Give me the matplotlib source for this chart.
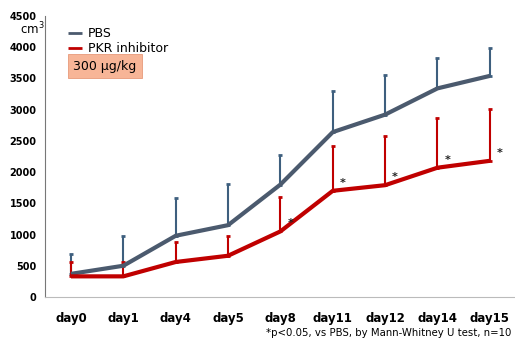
import matplotlib
import matplotlib.pyplot as plt
import numpy as np

matplotlib.rcParams['font.family'] = 'DejaVu Sans'

days = ['day0', 'day1', 'day4', 'day5', 'day8', 'day11', 'day12', 'day14', 'day15']
pbs = [370, 500, 980, 1150, 1800, 2640, 2920, 3340, 3540]
pbs_top = [690, 970, 1590, 1810, 2280, 3300, 3560, 3820, 3990]
pkr = [330, 330, 560, 660, 1050, 1700, 1790, 2070, 2180]
pkr_top = [560, 560, 880, 970, 1600, 2420, 2580, 2870, 3010]
signif = [False, False, False, False, True, True, True, True, True]
yticks = [0, 500, 1000, 1500, 2000, 2500, 3000, 3500, 4000, 4500]

c_pbs = '#4b5a6e'
c_pbs_err = '#3e5f7e'
c_pkr = '#c00000'

fig = plt.figure(figsize=(5.15, 3.39), dpi=100)
ax = fig.add_axes([0.087, 0.124, 0.915, 0.829])

x = np.arange(len(days))
pbs_err = np.array(pbs_top) - np.array(pbs)
pkr_err = np.array(pkr_top) - np.array(pkr)

ax.errorbar(x, pbs, yerr=[np.zeros(len(x)), pbs_err], fmt='none', ecolor=c_pbs_err,
            elinewidth=1.5, capsize=1.2, capthick=2, zorder=2)
ax.errorbar(x, pkr, yerr=[np.zeros(len(x)), pkr_err], fmt='none', ecolor=c_pkr,
            elinewidth=1.5, capsize=1.2, capthick=2, zorder=2)
ax.plot(x, pbs, color=c_pbs, lw=3, solid_capstyle='butt', zorder=3, label='PBS')
ax.plot(x, pkr, color=c_pkr, lw=3, solid_capstyle='butt', zorder=3, label='PKR inhibitor')

for i, s in enumerate(signif):
    if s:
        ax.text(x[i] + 0.13, pkr[i] + 50, '*', fontsize=8, fontweight='bold',
                color='#222222', ha='left', va='bottom')

ax.set_xlim(-0.5, 8.5)
ax.set_ylim(0, 4500)
ax.set_xticks(x)
ax.set_xticklabels(days, fontsize=8.5, fontweight='bold')
ax.set_yticks(yticks)
ax.set_yticklabels([str(v) for v in yticks], fontsize=7, fontweight='bold')
ax.tick_params(length=0, pad=6)
ax.tick_params(axis='x', pad=11)
for sp in ['top', 'right']:
    ax.spines[sp].set_visible(False)
ax.spines['left'].set_color('#777777')
ax.spines['bottom'].set_color('#bbbbbb')

leg = ax.legend(loc='upper left', bbox_to_anchor=(0.025, 1.0), frameon=False,
                fontsize=9, handlelength=1.1, handletextpad=0.5, labelspacing=0.15)
for line in leg.get_lines():
    line.set_linewidth(2)

fig.text(0.038, 0.915, 'cm$^3$', fontsize=8.5, ha='left', va='center')
fig.text(0.142, 0.805, '300 µg/kg', fontsize=9, ha='left', va='center',
         bbox=dict(boxstyle='square,pad=0.45', fc='#f7b597', ec='#e89a7a', lw=0.6))
fig.text(0.993, 0.004, '*p<0.05, vs PBS, by Mann-Whitney U test, n=10', fontsize=7.3,
         ha='right', va='bottom')

fig.savefig('out.png', dpi=100)
